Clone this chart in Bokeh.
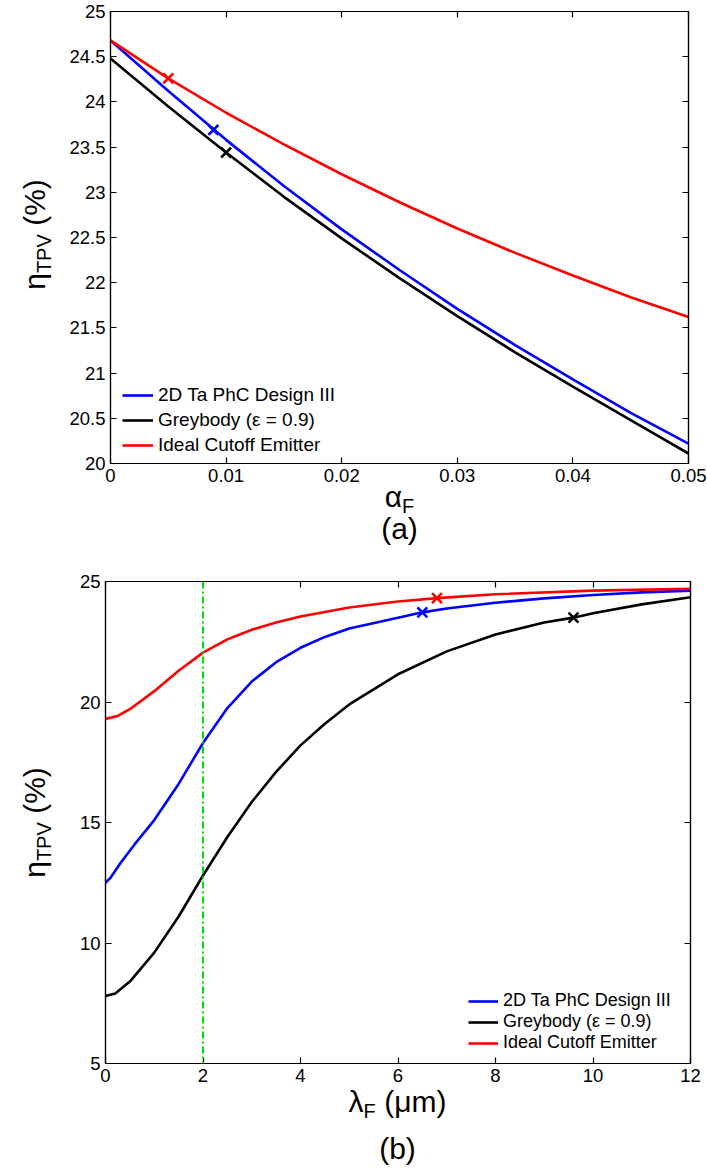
import math
from bokeh.plotting import figure
from bokeh.models import Range1d, LinearAxis, FixedTicker, Legend, LegendItem, Span
from bokeh.core.properties import value
from bokeh.layouts import column
from bokeh.embed import file_html
from bokeh.resources import INLINE

FONT = "Liberation Sans"

# ---------------- (a) data ----------------
a_alpha = [0, 0.005, 0.01, 0.015, 0.02, 0.025, 0.03, 0.035, 0.04, 0.045, 0.05]
a_phc = [24.68, 24.12, 23.58, 23.07, 22.59, 22.14, 21.71, 21.31, 20.93, 20.56, 20.22]
a_grey = [24.48, 23.95, 23.44, 22.95, 22.49, 22.05, 21.63, 21.23, 20.85, 20.48, 20.11]
a_ideal = [24.68, 24.26, 23.88, 23.53, 23.20, 22.89, 22.60, 22.33, 22.08, 21.84, 21.62]
a_mark_x = [0.0089, 0.0100, 0.0050]
a_mark_y = [23.69, 23.44, 24.26]
a_xticks = [0, 0.01, 0.02, 0.03, 0.04, 0.05]
a_xtick_labels = ["0", "0.01", "0.02", "0.03", "0.04", "0.05"]
a_yticks = [20, 20.5, 21, 21.5, 22, 22.5, 23, 23.5, 24, 24.5, 25]
a_ytick_labels = ["20", "20.5", "21", "21.5", "22", "22.5", "23", "23.5", "24", "24.5", "25"]

# ---------------- (b) data ----------------
b_lam_phc = [0, 0.1, 0.3, 0.6, 1, 1.5, 2, 2.5, 3, 3.5, 4, 4.5, 5, 6, 6.5, 7, 8, 9, 10, 11, 12]
b_phc = [12.5, 12.7, 13.3, 14.1, 15.1, 16.6, 18.3, 19.75, 20.85, 21.65, 22.25, 22.7, 23.05,
         23.5, 23.72, 23.88, 24.12, 24.3, 24.44, 24.55, 24.62]
b_lam_grey = [0, 0.2, 0.5, 1, 1.5, 2, 2.5, 3, 3.5, 4, 4.5, 5, 6, 7, 8, 9, 9.6, 10, 11, 12]
b_grey = [7.8, 7.9, 8.4, 9.6, 11.1, 12.8, 14.4, 15.85, 17.1, 18.2, 19.1, 19.9, 21.15, 22.1,
          22.8, 23.3, 23.5, 23.68, 24.05, 24.35]
b_lam_ideal = [0, 0.25, 0.5, 1, 1.5, 2, 2.5, 3, 3.5, 4, 5, 6, 6.8, 8, 10, 12]
b_ideal = [19.3, 19.42, 19.7, 20.45, 21.3, 22.05, 22.6, 23.0, 23.3, 23.55, 23.92, 24.17, 24.31,
           24.47, 24.62, 24.7]
b_mark_x = [6.5, 9.6, 6.8]
b_mark_y = [23.72, 23.5, 24.31]
b_cutoff = 2
b_xticks = [0, 2, 4, 6, 8, 10, 12]
b_xtick_labels = ["0", "2", "4", "6", "8", "10", "12"]
b_yticks = [5, 10, 15, 20, 25]
b_ytick_labels = ["5", "10", "15", "20", "25"]

series_names = ["2D Ta PhC Design III", "Greybody (\u03b5 = 0.9)", "Ideal Cutoff Emitter"]
series_colors = ["#0000ff", "#000000", "#ff0000"]

PAGE_W = 707
PAGE_H = 1166

# approximate Arial advance widths (per 1000 em) for label layout
W = {'\u03b7': 556, 'T': 611, 'P': 667, 'V': 667, ' ': 278, '(': 333, '%': 889, ')': 333,
     '\u03b1': 578, 'F': 611, '\u03bb': 500, '\u03bc': 576, 'm': 833, 'a': 556, 'b': 556}


def tw(s, size):
    return sum(W.get(c, 556) for c in s) / 1000.0 * size


def make_fig(xr, yr, fw, fh, bl, br, bt, bb, xticks, xlabels, yticks, ylabels):
    p = figure(frame_width=fw, frame_height=fh, x_range=Range1d(*xr), y_range=Range1d(*yr),
               output_backend="svg", toolbar_location=None, frame_align=False,
               min_border_left=bl, min_border_right=br, min_border_top=bt, min_border_bottom=bb,
               background_fill_color="white", border_fill_color="white")
    p.grid.visible = False
    p.outline_line_color = "black"
    p.outline_line_width = 1.2
    for ax, ticks, labels in ((p.xaxis[0], xticks, xlabels), (p.yaxis[0], yticks, ylabels)):
        ax.ticker = FixedTicker(ticks=ticks)
        ax.major_label_overrides = {t: l for t, l in zip(ticks, labels)}
        ax.major_tick_in = 6
        ax.major_tick_out = 0
        ax.minor_tick_line_color = None
        ax.major_label_text_font = FONT
        ax.major_label_text_font_size = "18.5px"
        ax.major_label_text_color = "black"
        ax.axis_line_width = 1.2
        ax.major_tick_line_width = 1.2
        ax.major_label_standoff = 5
    for side, ticks in (("right", yticks), ("above", xticks)):
        ax = LinearAxis(ticker=FixedTicker(ticks=ticks))
        ax.major_tick_in = 6
        ax.major_tick_out = 0
        ax.minor_tick_line_color = None
        ax.major_label_text_font_size = "1px"
        ax.major_label_text_color = None
        ax.major_label_standoff = 0
        ax.axis_line_width = 1.2
        ax.major_tick_line_width = 1.2
        p.add_layout(ax, side)
    return p


# ---------------- figure (a) ----------------
pa = make_fig((0, 0.05), (20, 25), 578, 452, 110, 19, 11, 97,
              a_xticks, a_xtick_labels, a_yticks, a_ytick_labels)
ra = []
for ys, c in zip((a_phc, a_grey, a_ideal), series_colors):
    ra.append(pa.line(a_alpha, ys, line_color=c, line_width=2.6))
pa.scatter(a_mark_x, a_mark_y, marker="x", size=14, line_width=2.6, line_color=series_colors)
leg_a = Legend(items=[LegendItem(label=n, renderers=[r]) for n, r in zip(series_names, ra)],
               location=(12, 7), padding=0, margin=0, spacing=3, glyph_width=31, glyph_height=20,
               label_height=20, label_standoff=5, border_line_color=None,
               background_fill_alpha=0, label_text_font=FONT, label_text_font_size="19px",
               label_text_color="black")
pa.add_layout(leg_a)

# ---------------- figure (b) ----------------
pb = make_fig((0, 12), (5, 25), 585, 482, 105, 17, 21, 103,
              b_xticks, b_xtick_labels, b_yticks, b_ytick_labels)
pb.add_layout(Span(location=b_cutoff, dimension="height", line_color="#00e000",
                   line_width=2, line_dash="7 3 2 3"))
rb = []
for xs, ys, c in zip((b_lam_phc, b_lam_grey, b_lam_ideal), (b_phc, b_grey, b_ideal), series_colors):
    rb.append(pb.line(xs, ys, line_color=c, line_width=2.6))
pb.scatter(b_mark_x, b_mark_y, marker="x", size=14, line_width=2.6, line_color=series_colors)
leg_b = Legend(items=[LegendItem(label=n, renderers=[r]) for n, r in zip(series_names, rb)],
               location=(363, 10), padding=0, margin=0, spacing=0, glyph_width=30, glyph_height=20,
               label_height=20, label_standoff=5, border_line_color=None,
               background_fill_alpha=0, label_text_font=FONT, label_text_font_size="18px",
               label_text_color="black")
pb.add_layout(leg_b)

# ---------------- transparent overlay for axis titles with subscripts ----------------
ov = figure(width=PAGE_W, height=PAGE_H, x_range=Range1d(0, PAGE_W), y_range=Range1d(0, PAGE_H),
            output_backend="svg", toolbar_location=None, min_border=0, frame_align=False,
            x_axis_type=None, y_axis_type=None, margin=(-PAGE_H, 0, 0, 0))
ov.grid.visible = False
ov.outline_line_color = None
ov.background_fill_color = None
ov.border_fill_color = None

texts = {}


def put(t, size, x, y_page, angle):
    d = texts.setdefault((size, angle), {"x": [], "y": [], "t": []})
    d["x"].append(x)
    d["y"].append(PAGE_H - y_page)
    d["t"].append(t)


def rich_label(parts, cx, cy, rotate):
    # parts: (text, font size, subscript shift, gap before)
    total = sum(tw(t, s) + g for t, s, _, g in parts)
    pos = -total / 2.0
    for t, s, sh, g in parts:
        pos += g
        if rotate:
            put(t, s, cx + sh, cy - pos, math.pi / 2)
        else:
            put(t, s, cx + pos, cy + sh, 0.0)
        pos += tw(t, s)


BIG, SUB, SH = 30, 20, 9
SP = tw(" ", BIG)
rich_label([("\u03b7", BIG, 0, 0), ("TPV", SUB, SH, 0), ("(%)", BIG, 0, SP)], 34, 234, True)
rich_label([("\u03b1", BIG, 0, 0), ("F", SUB, SH, 0)], 399, 496, False)
rich_label([("(a)", BIG, 0, 0)], 399, 528, False)
rich_label([("\u03b7", BIG, 0, 0), ("TPV", SUB, SH, 0), ("(%)", BIG, 0, SP)], 34, 822, True)
rich_label([("\u03bb", BIG, 0, 0), ("F", SUB, SH, 0), ("(\u03bcm)", BIG, 0, SP)], 397, 1101, False)
rich_label([("(b)", BIG, 0, 0)], 397, 1148, False)

for (size, ang), d in texts.items():
    ov.text(d["x"], d["y"], text=d["t"], angle=ang, text_font=value(FONT),
            text_font_size=value("%dpx" % size), text_align="left",
            text_baseline="alphabetic", text_color="black")

layout = column(pa, pb, ov)
open("out.html", "w").write(file_html(layout, INLINE))
